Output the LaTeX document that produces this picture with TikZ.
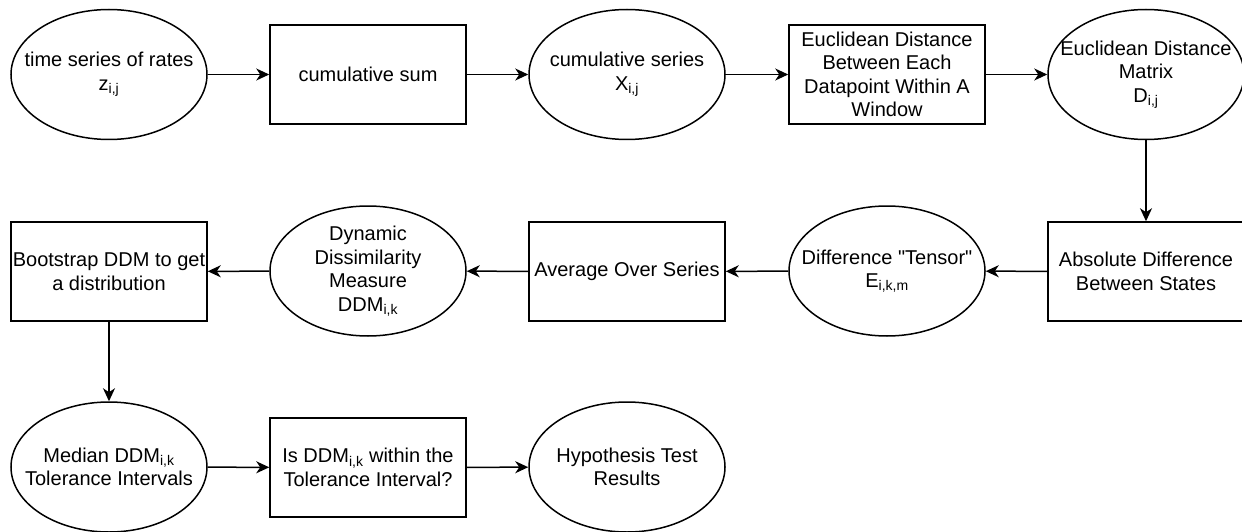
\documentclass[tikz,border=0pt]{standalone}
\usepackage{fontspec}
\setmainfont{Liberation Sans}
\newfontfamily\plainfont{Liberation Sans}
\usetikzlibrary{shapes.geometric,arrows.meta}
\tikzset{
  base/.style={draw=black, line width=1.5pt, font=\fontsize{20pt}{23.5pt}\selectfont, align=center},
  box/.style={base, rectangle, minimum width=196pt, minimum height=99pt, inner sep=0pt},
  oval/.style={base, ellipse, minimum width=196pt, minimum height=130pt, inner sep=0pt},
  txt/.style={font=\fontsize{20pt}{23.5pt}\selectfont, align=center, inner sep=0pt},
  conn/.style={line width=1.5pt, -{Stealth[length=13pt,width=12pt,inset=4pt]}},
}
\begin{document}
\begin{tikzpicture}[x=1pt,y=-1pt]
\path[use as bounding box] (0,0) rectangle (1242,532);
\clip (0,0) rectangle (1242,532);
% row 1
\node[oval, label={[txt]center:{time series of rates\\z\textsubscript{i,j}}}] (e1) at (109,74.5) {};
\node[box] (b1) at (368,74.5) {cumulative sum};
\node[oval, label={[txt]center:{cumulative series\\X\textsubscript{i,j}}}] (e2) at (627,74.5) {};
\node[box] (b2) at (887,74.5) {Euclidean Distance\\Between Each\\Datapoint Within A\\Window};
\node[oval, label={[txt]center:{Euclidean Distance\\Matrix\\D\textsubscript{i,j}}}] (e3) at (1146,74.5) {};
% row 2
\node[box] (b3) at (109,271.5) {Bootstrap DDM to get\\a distribution};
\node[oval, label={[txt]center:{Dynamic\\Dissimilarity\\Measure\\DDM\textsubscript{i,k}}}] (e4) at (368,271) {};
\node[box] (b4) at (627,271.5) {Average Over Series};
\node[oval, label={[txt]center:{{\plainfont Difference "Tensor"}\\E\textsubscript{i,k,m}}}] (e5) at (887,271) {};
\node[box] (b5) at (1146,271.5) {Absolute Difference\\Between States};
% row 3
\node[oval, label={[txt]center:{Median DDM\textsubscript{i,k}\\Tolerance Intervals}}] (e6) at (109,467) {};
\node[box] (b6) at (368,467.5) {Is DDM\textsubscript{i,k} within the\\Tolerance Interval?};
\node[oval, label={[txt]center:{Hypothesis Test\\Results}}] (e7) at (627,467) {};
% connectors
\draw[conn] (e1) -- (b1);
\draw[conn] (b1) -- (e2);
\draw[conn] (e2) -- (b2);
\draw[conn] (b2) -- (e3);
\draw[conn] (e3.south) -- (b5.north);
\draw[conn] (b5) -- (e5);
\draw[conn] (e5) -- (b4);
\draw[conn] (b4) -- (e4);
\draw[conn] (e4) -- (b3);
\draw[conn] (b3.south) -- (e6.north);
\draw[conn] (e6) -- (b6);
\draw[conn] (b6) -- (e7);
\end{tikzpicture}
\end{document}
